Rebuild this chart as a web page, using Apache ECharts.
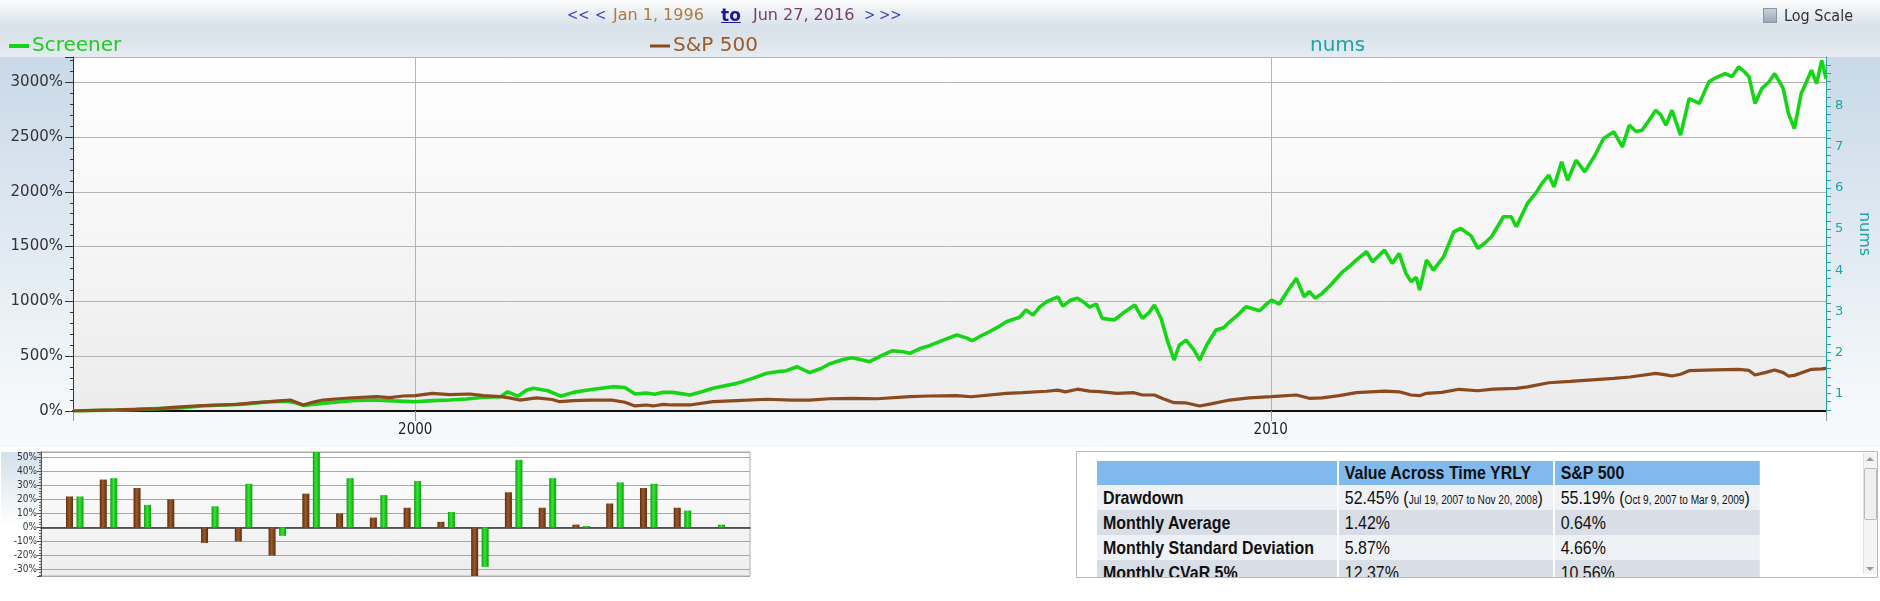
<!DOCTYPE html>
<html><head><meta charset="utf-8">
<script src="https://cdn.jsdelivr.net/npm/echarts@6/dist/echarts.min.js"></script>
<style>
html,body{margin:0;padding:0;width:1880px;height:601px;overflow:hidden;background:#fff;}
.abs{position:absolute;}
#topbar{left:0;top:0;width:1880px;height:57px;background:linear-gradient(to bottom,#fbfcfd 0px,#eef2f5 10px,#d8e1e9 27px,#dce4eb 40px,#e6ecf1 57px);}
#leftpanel{left:0;top:57px;width:73px;height:354px;background:linear-gradient(to bottom,#c9d9e8,#f6f9fb);}
#rightpanel{left:1826px;top:57px;width:54px;height:354px;background:linear-gradient(to bottom,#c9d9e8,#f6f9fb);}
#below{left:0;top:411px;width:1880px;height:36px;background:#f6f9fb;}
#barleft{left:1px;top:452px;width:40px;height:124px;background:linear-gradient(to bottom,#d3e0ec,#ffffff 60%);}
#chart{left:0;top:0;width:1880px;height:601px;}
.tb{position:absolute;top:5px;font-family:"DejaVu Sans",sans-serif;font-size:16px;white-space:nowrap;line-height:20px;}
.ar{font-family:"DejaVu Sans Condensed","DejaVu Sans",sans-serif;font-size:15px;color:#3c44d8;}
#logscale{position:absolute;left:1763px;top:7px;font-family:"DejaVu Sans Condensed","DejaVu Sans",sans-serif;font-size:16px;color:#333;white-space:nowrap;line-height:18px;}
#logscale .box{display:inline-block;width:12px;height:13px;border:1px solid #8a98a8;background:linear-gradient(#c8d2dc,#9aa8b6);vertical-align:-2px;margin-right:7px;}
#tblbox{left:1076px;top:451px;width:800px;height:125px;border:1px solid #b4bcc4;background:#fff;overflow:hidden;}
#stats{position:absolute;left:20px;top:9px;width:790px;table-layout:fixed;border-collapse:collapse;font-family:"Liberation Sans",Arial,sans-serif;font-size:19px;color:#111;transform:scaleX(0.84);transform-origin:0 0;}
#stats td,#stats th{padding:0 0 0 7px;border-right:2px solid #fff;text-align:left;white-space:nowrap;overflow:hidden;}
#stats tr.hd th{background:#80b9ee;height:24px;font-weight:bold;}
#stats tr.r1 td{background:#eef1f6;height:25px;}
#stats tr.r2 td{background:#d8dde6;height:25px;}
#stats td.lb{font-weight:bold;}
#stats .sm{font-size:12px;}
#scroll{left:1863px;top:453px;width:13px;height:121px;border-left:1px solid #dde;background:#f4f4f4;}
#thumb{left:1864px;top:468px;width:11px;height:50px;border:1px solid #b9b9b9;border-radius:2px;background:#f0f0f0;}
.arr{position:absolute;left:1866px;width:0;height:0;border-left:4px solid transparent;border-right:4px solid transparent;}
</style></head><body>
<div id="topbar" class="abs"></div>
<div id="leftpanel" class="abs"></div>
<div id="rightpanel" class="abs"></div>
<div id="below" class="abs"></div>
<div id="barleft" class="abs"></div>
<div id="chart" class="abs"></div>

<span class="tb ar" style="left:567px;">&lt;&lt;</span>
<span class="tb ar" style="left:595px;">&lt;</span>
<span class="tb" style="left:613px;color:#b07a3c;">Jan 1, 1996</span>
<span class="tb" style="left:721px;color:#1a1a9a;font-weight:bold;text-decoration:underline;font-size:17px;">to</span>
<span class="tb" style="left:753px;color:#7a3a70;">Jun 27, 2016</span>
<span class="tb ar" style="left:864px;">&gt;</span>
<span class="tb ar" style="left:879px;">&gt;&gt;</span>
<div id="logscale"><span class="box"></span>Log Scale</div>

<div id="tblbox" class="abs">
<table id="stats">
<colgroup><col style="width:287px"><col style="width:257px"><col style="width:246px"></colgroup>
<tr class="hd"><th></th><th>Value Across Time YRLY</th><th>S&amp;P 500</th></tr>
<tr class="r1"><td class="lb">Drawdown</td><td>52.45% (<span class="sm">Jul 19, 2007 to Nov 20, 2008</span>)</td><td>55.19% (<span class="sm">Oct 9, 2007 to Mar 9, 2009</span>)</td></tr>
<tr class="r2"><td class="lb">Monthly Average</td><td>1.42%</td><td>0.64%</td></tr>
<tr class="r1"><td class="lb">Monthly Standard Deviation</td><td>5.87%</td><td>4.66%</td></tr>
<tr class="r2"><td class="lb">Monthly CVaR 5%</td><td>12.37%</td><td>10.56%</td></tr>
</table>
</div>
<div id="scroll" class="abs"></div>
<div id="thumb" class="abs"></div>
<div class="arr" style="top:457px;border-bottom:4px solid #9a9a9a;"></div>
<div class="arr" style="top:567px;border-top:4px solid #9a9a9a;"></div>

<script>
// ---- Main chart data: [fractional year, cumulative return %] ----
const screenerSeries = [
[1996.0,0],[1996.25,5],[1996.5,8],[1996.75,15],[1997.0,22],[1997.25,28],[1997.5,45],[1997.75,55],
[1998.0,62],[1998.25,82],[1998.5,90],[1998.6,75],[1998.7,50],[1998.85,65],[1999.0,76],[1999.25,95],
[1999.5,100],[1999.75,92],[2000.0,85],[2000.2,95],[2000.4,100],[2000.6,110],[2000.8,125],[2001.0,131],
[2001.08,175],[2001.2,135],[2001.3,190],[2001.38,207],[2001.55,185],[2001.7,135],[2001.85,170],[2002.0,190],
[2002.15,205],[2002.31,222],[2002.45,215],[2002.57,155],[2002.7,165],[2002.8,152],[2002.9,170],[2003.01,170],
[2003.21,146],[2003.35,175],[2003.48,207],[2003.62,230],[2003.76,252],[2003.95,300],[2004.11,344],[2004.25,360],
[2004.34,368],[2004.46,404],[2004.61,350],[2004.75,390],[2004.84,429],[2005.0,470],[2005.11,486],[2005.2,470],
[2005.31,450],[2005.45,505],[2005.58,550],[2005.7,540],[2005.78,526],[2005.9,570],[2006.01,596],[2006.15,640],
[2006.33,693],[2006.45,665],[2006.51,641],[2006.6,680],[2006.71,723],[2006.8,760],[2006.91,814],[2007.0,840],
[2007.06,854],[2007.14,921],[2007.22,875],[2007.3,950],[2007.38,997],[2007.51,1042],[2007.57,957],[2007.66,1010],
[2007.74,1028],[2007.82,990],[2007.88,948],[2007.96,976],[2008.03,845],[2008.17,830],[2008.27,891],[2008.41,967],
[2008.5,845],[2008.58,900],[2008.64,967],[2008.72,840],[2008.79,647],[2008.87,465],[2008.93,600],[2009.01,647],
[2009.1,560],[2009.17,465],[2009.25,600],[2009.36,739],[2009.45,760],[2009.52,814],[2009.62,880],[2009.71,951],
[2009.8,930],[2009.87,915],[2009.95,975],[2010.01,1012],[2010.1,976],[2010.2,1100],[2010.3,1210],[2010.39,1042],
[2010.45,1090],[2010.52,1030],[2010.6,1073],[2010.7,1150],[2010.84,1270],[2010.92,1320],[2011.0,1377],[2011.12,1453],
[2011.19,1362],[2011.33,1468],[2011.42,1347],[2011.5,1438],[2011.58,1256],[2011.64,1180],[2011.7,1220],[2011.74,1103],
[2011.82,1377],[2011.9,1286],[2012.02,1407],[2012.14,1635],[2012.22,1666],[2012.34,1600],[2012.42,1484],[2012.5,1530],
[2012.58,1590],[2012.72,1772],[2012.81,1772],[2012.87,1681],[2013.0,1894],[2013.1,1990],[2013.17,2076],[2013.25,2152],
[2013.31,2045],[2013.4,2273],[2013.47,2106],[2013.57,2288],[2013.67,2182],[2013.79,2334],[2013.89,2486],[2014.01,2547],
[2014.11,2410],[2014.19,2608],[2014.27,2550],[2014.34,2562],[2014.42,2650],[2014.5,2744],[2014.56,2700],[2014.62,2608],
[2014.69,2744],[2014.79,2517],[2014.89,2851],[2015.01,2806],[2015.12,3003],[2015.2,3040],[2015.31,3079],[2015.39,3050],
[2015.47,3140],[2015.53,3100],[2015.59,3049],[2015.66,2806],[2015.74,2943],[2015.82,3000],[2015.89,3079],[2015.99,2943],
[2016.05,2715],[2016.12,2577],[2016.2,2897],[2016.26,3000],[2016.32,3110],[2016.38,2988],[2016.44,3200],[2016.49,3034]
];
const sp500Series = [
[1996.0,0],[1996.25,5],[1996.5,10],[1996.74,15],[1997.0,22],[1997.13,30],[1997.3,40],[1997.52,50],
[1997.75,55],[1997.91,61],[1998.1,75],[1998.3,85],[1998.54,100],[1998.69,55],[1998.8,80],[1998.92,100],
[1999.1,112],[1999.27,121],[1999.55,131],[1999.7,122],[1999.86,137],[2000.0,140],[2000.2,161],[2000.4,150],
[2000.64,155],[2000.8,140],[2001.0,131],[2001.1,120],[2001.22,100],[2001.42,120],[2001.6,105],[2001.69,85],
[2001.85,95],[2002.04,100],[2002.3,99],[2002.45,80],[2002.57,46],[2002.7,55],[2002.78,46],[2002.9,60],
[2003.0,55],[2003.21,55],[2003.48,85],[2003.76,95],[2004.11,107],[2004.4,100],[2004.61,100],[2004.84,112],
[2005.11,116],[2005.4,112],[2005.78,131],[2006.0,137],[2006.33,140],[2006.5,130],[2006.91,160],[2007.1,167],
[2007.38,180],[2007.51,191],[2007.6,175],[2007.74,199],[2007.88,182],[2008.0,176],[2008.2,160],[2008.4,167],
[2008.5,146],[2008.64,146],[2008.75,110],[2008.87,76],[2009.0,75],[2009.17,46],[2009.3,65],[2009.52,100],
[2009.75,120],[2010.01,131],[2010.3,146],[2010.45,116],[2010.6,120],[2010.8,140],[2011.0,167],[2011.33,182],
[2011.5,175],[2011.64,146],[2011.74,140],[2011.82,161],[2012.0,170],[2012.2,198],[2012.42,185],[2012.6,200],
[2012.87,207],[2013.0,220],[2013.25,258],[2013.5,270],[2013.67,280],[2014.01,298],[2014.2,310],[2014.5,344],
[2014.62,330],[2014.69,319],[2014.79,335],[2014.89,368],[2015.2,375],[2015.47,380],[2015.59,370],[2015.66,328],
[2015.8,355],[2015.89,374],[2015.99,350],[2016.05,319],[2016.12,325],[2016.32,380],[2016.44,385],[2016.49,389]
];
const numsSeries = [];
const leftTickLabels = ['0%','500%','1000%','1500%','2000%','2500%','3000%'];
const xTickLabels = [2000, 2010];
const rightTickLabels = [1,2,3,4,5,6,7,8];
const rightMinorTicks = [0.6,0.8,1,1.2,1.4,1.6,1.8,2,2.2,2.4,2.6,2.8,3,3.2,3.4,3.6,3.8,4,4.2,4.4,4.6,4.8,5,5.2,5.4,5.6,5.8,6,6.2,6.4,6.6,6.8,7,7.2,7.4,7.6,7.8,8,8.2,8.4,8.6,8.8,9,9.2];

// ---- Yearly returns bar chart ----
const barYears = [1996,1997,1998,1999,2000,2001,2002,2003,2004,2005,2006,2007,2008,2009,2010,2011,2012,2013,2014,2015];
const sp500Yearly = [22,34,28,20,-11,-10,-20,24,10,7,14,4,-34.5,25,14,2,17,28,14,0];
const screenerYearly = [22,35,16,0,15,31,-6,54,35,23,33,11,-28,48,35,1,32,31,12,2];
const barTickLabels = ['-30%','-20%','-10%','0%','10%','20%','30%','40%','50%'];

const GREEN = '#16d416', BROWN = '#8b4a1e', TEAL = '#1fa3a8';
const AX = '"DejaVu Sans", Verdana, sans-serif';
const AXC = '"DejaVu Sans Condensed", "DejaVu Sans", sans-serif';
const lg = echarts.graphic.LinearGradient;

const chart = echarts.init(document.getElementById('chart'), null, {renderer: 'canvas'});
chart.setOption({
  animation: false,
  backgroundColor: 'transparent',
  legend: [
    {data: ['Screener'], left: 4, top: 31, icon: 'rect', itemWidth: 20, itemHeight: 4, itemGap: 4, selectedMode: false,
     textStyle: {color: '#22cc22', fontSize: 20, fontFamily: AX, padding: [0,0,0,-2]}},
    {data: ['S&P 500'], left: 645, top: 31, icon: 'rect', itemWidth: 20, itemHeight: 3, selectedMode: false,
     textStyle: {color: '#9a5a2a', fontSize: 20, fontFamily: AX, padding: [0,0,0,-2]}},
    {data: ['nums'], left: 1300, top: 31, icon: 'rect', itemWidth: 0, itemHeight: 0, selectedMode: false,
     textStyle: {color: TEAL, fontSize: 20, fontFamily: AX}}
  ],
  grid: [
    {left: 73, right: 54, top: 57, height: 354, show: true, borderWidth: 0,
     backgroundColor: new lg(0, 0, 0, 1, [{offset: 0, color: '#ffffff'}, {offset: 1, color: '#ececec'}])},
    {left: 41, width: 709, top: 452, height: 124, show: true, borderColor: '#aab2ba', borderWidth: 1,
     backgroundColor: new lg(0, 0, 0, 1, [{offset: 0, color: '#ffffff'}, {offset: 1, color: '#ededed'}])}
  ],
  xAxis: [
    {gridIndex: 0, type: 'value', min: 1996, max: 2016.49, splitNumber: 2,
     axisLine: {lineStyle: {color: '#111', width: 2}},
     axisTick: {show: true, length: 10, lineStyle: {color: '#999'}},
     axisLabel: {color: '#222', fontSize: 15, fontFamily: AXC, margin: 12,
       formatter: v => xTickLabels.some(t => Math.abs(t - v) < 1e-6) ? String(Math.round(v)) : ''},
     splitLine: {show: true, lineStyle: {color: '#b4b4b4'}}},
    {gridIndex: 1, type: 'value', min: 1995, max: 2016,
     axisLine: {onZero: true, lineStyle: {color: '#333', width: 1.5}},
     axisTick: {show: false}, axisLabel: {show: false}, splitLine: {show: false}}
  ],
  yAxis: [
    {gridIndex: 0, type: 'value', min: 0, max: 3230, interval: 500, position: 'left',
     axisLine: {show: true, lineStyle: {color: '#333'}},
     axisTick: {show: true, length: 8, lineStyle: {color: '#333'}},
     minorTick: {show: true, splitNumber: 5, length: 3, lineStyle: {color: '#333'}},
     axisLabel: {color: '#333', fontSize: 15, fontFamily: AX, margin: 10,
       formatter: v => { const s = Math.round(v) + '%'; return leftTickLabels.includes(s) && Math.abs(v % 500) < 1e-6 ? s : ''; }},
     splitLine: {show: true, lineStyle: {color: '#b4b4b4'}}},
    {gridIndex: 0, type: 'value', min: 0.57, max: 9.19, position: 'right',
     name: 'nums', nameLocation: 'middle', nameRotate: -90, nameGap: 30,
     nameTextStyle: {color: TEAL, fontSize: 16, fontFamily: AX},
     axisLine: {show: true, lineStyle: {color: TEAL}},
     axisTick: {show: true, length: 5, customValues: rightMinorTicks, lineStyle: {color: TEAL}},
     axisLabel: {color: TEAL, fontSize: 13, fontFamily: AX, margin: 9, customValues: rightTickLabels},
     splitLine: {show: false}},
    {gridIndex: 1, type: 'value', min: -34.5, max: 53.6, splitNumber: 9,
     axisLine: {show: true, lineStyle: {color: '#555'}},
     axisTick: {show: true, length: 4, lineStyle: {color: '#555'}},
     minorTick: {show: true, splitNumber: 5, length: 2, lineStyle: {color: '#666'}},
     axisLabel: {color: '#333', fontSize: 10, fontFamily: AXC, margin: 4,
       formatter: v => { const s = Math.round(v) + '%'; return barTickLabels.includes(s) && Math.abs(v - Math.round(v)) < 1e-6 ? s : ''; }},
     splitLine: {show: true, lineStyle: {color: '#a8a8a8'}}}
  ],
  series: [
    {name: 'Screener', type: 'line', xAxisIndex: 0, yAxisIndex: 0, data: screenerSeries, symbol: 'none',
     lineStyle: {color: GREEN, width: 3.6}, itemStyle: {color: GREEN}, z: 3},
    {name: 'S&P 500', type: 'line', xAxisIndex: 0, yAxisIndex: 0, data: sp500Series, symbol: 'none',
     lineStyle: {color: BROWN, width: 3.2}, itemStyle: {color: BROWN}, z: 4},
    {name: 'nums', type: 'line', xAxisIndex: 0, yAxisIndex: 1, data: numsSeries, symbol: 'none',
     lineStyle: {color: TEAL}, itemStyle: {color: TEAL}},
    {name: 'S&P 500 yearly', type: 'bar', xAxisIndex: 1, yAxisIndex: 2, barWidth: 7, barGap: '50%',
     data: barYears.map((y, i) => [y, sp500Yearly[i]]),
     itemStyle: {color: new lg(0, 0, 1, 0, [{offset: 0, color: '#5e2c0c'}, {offset: 0.45, color: '#9a5a2c'}, {offset: 1, color: '#5e2c0c'}])}},
    {name: 'Screener yearly', type: 'bar', xAxisIndex: 1, yAxisIndex: 2, barWidth: 7, barGap: '50%',
     data: barYears.map((y, i) => [y, screenerYearly[i]]),
     itemStyle: {color: new lg(0, 0, 1, 0, [{offset: 0, color: '#0e9e0e'}, {offset: 0.45, color: '#33e633'}, {offset: 1, color: '#0e9e0e'}])}}
  ]
});
</script>
</body></html>
